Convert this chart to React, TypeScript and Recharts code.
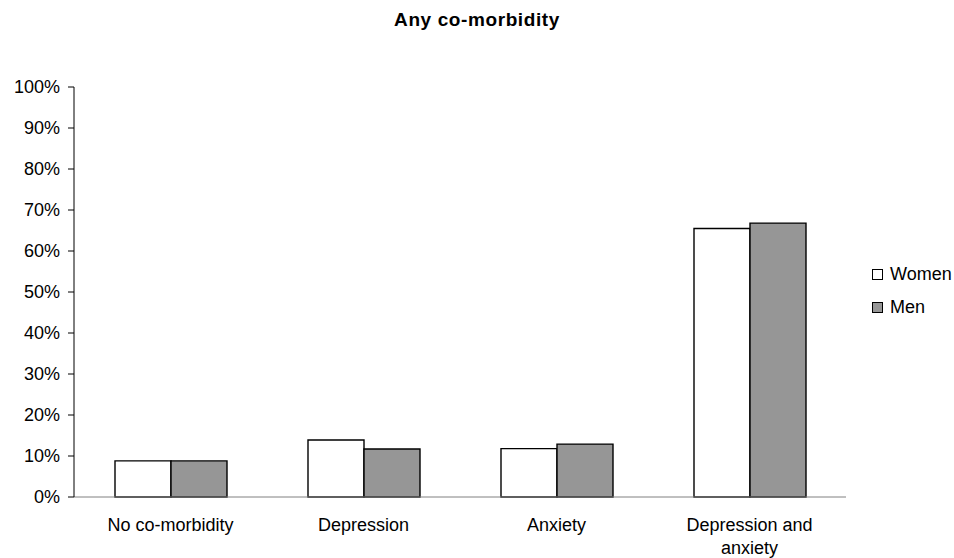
import { BarChart, Bar, XAxis, YAxis, Text } from "recharts";

const CATEGORIES = ["No co-morbidity", "Depression", "Anxiety", "Depression and anxiety"];
const WOMEN = [8.8, 13.9, 11.8, 65.5];
const MEN = [8.8, 11.7, 12.9, 66.8];
const Y_TICKS = [0, 10, 20, 30, 40, 50, 60, 70, 80, 90, 100];
const BOUNDARY_TICKS = [0, 1, 2, 3, 4];
const SERIES = [
  { key: "women", label: "Women", fill: "#ffffff" },
  { key: "men", label: "Men", fill: "#969696" },
];

const FONT = "'Liberation Sans', Arial, sans-serif";

const data = CATEGORIES.map((name, i) => ({ name, women: WOMEN[i], men: MEN[i] }));

function CategoryTick({ x, y, payload }: any) {
  return (
    <Text
      x={x}
      y={y + 13}
      width={160}
      textAnchor="middle"
      verticalAnchor="start"
      fill="#000"
      lineHeight={23}
      style={{ fontSize: 18, fontFamily: FONT }}
    >
      {payload.value}
    </Text>
  );
}

export default function App() {
  return (
    <div style={{ position: "absolute", left: 0, top: 0, width: 954, height: 558, background: "#fff", fontFamily: FONT }}>
      <div style={{ position: "absolute", top: 9, left: 0, width: 954, textAlign: "center", fontWeight: "bold", fontSize: 19, letterSpacing: 0.6 }}>
        Any co-morbidity
      </div>
      <BarChart width={954} height={558} data={data} margin={{ top: 87, right: 108, left: 0, bottom: 0 }} barGap={0} barCategoryGap={41}>
        <XAxis dataKey="name" xAxisId="cat" tickLine={false} axisLine={{ stroke: "#808080" }} tick={<CategoryTick />} interval={0} height={61} />
        <XAxis xAxisId="edge" type="number" domain={[0, 4]} ticks={BOUNDARY_TICKS} tick={false} tickSize={5} axisLine={false} tickLine={{ stroke: "#808080" }} height={0} />
        <YAxis
          domain={[0, 100]}
          ticks={Y_TICKS}
          tickFormatter={(v) => `${v}%`}
          width={74}
          tickSize={6}
          tickMargin={8}
          tickLine={{ stroke: "#000" }}
          axisLine={{ stroke: "#000" }}
          tick={{ fill: "#000", fontSize: 18, fontFamily: FONT }}
        />
        {SERIES.map((s) => (
          <Bar key={s.key} xAxisId="cat" dataKey={s.key} name={s.label} fill={s.fill} stroke="#000" strokeWidth={1.4} isAnimationActive={false} />
        ))}
      </BarChart>
      <div style={{ position: "absolute", left: 872, top: 258, fontSize: 18, color: "#000" }}>
        {SERIES.map((s) => (
          <div key={s.key} style={{ display: "flex", alignItems: "center", height: 33 }}>
            <span style={{ width: 9, height: 9, border: "1px solid #000", background: s.fill, marginRight: 7 }} />
            {s.label}
          </div>
        ))}
      </div>
    </div>
  );
}
